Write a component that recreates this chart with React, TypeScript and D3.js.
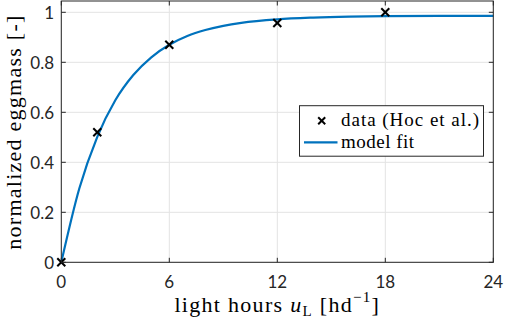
import React from "react";
import * as d3 from "d3";

const dataX = [0, 2, 6, 12, 18];
const dataY = [0, 0.52, 0.87, 0.957, 1.0];

const fitX = [0, 1, 2, 3, 4, 5, 6, 7, 8, 9, 10, 12, 14, 16, 18, 21, 24];
const fitY = [0, 0.295, 0.502, 0.648, 0.749, 0.82, 0.87, 0.905, 0.929, 0.946, 0.958, 0.972, 0.979, 0.983, 0.985, 0.986, 0.986];

const xTicks = [0, 6, 12, 18, 24];
const yTicks = [0, 0.2, 0.4, 0.6, 0.8, 1];
const yTickLabels = ["0", "0.2", "0.4", "0.6", "0.8", "1"];

const W = 505, H = 319;
const L = 61.3, R = 493.3, T = 1, B = 262.3;

export default function App() {
  const x = d3.scaleLinear().domain([0, 24]).range([L, R]);
  const y = d3.scaleLinear().domain([0, 1]).range([B, B - 250]);
  const line = d3
    .line<number>()
    .x((_, i) => x(fitX[i]))
    .y((d) => y(d))
    .curve(d3.curveMonotoneX)(fitY) as string;
  const axisColor = "#262626";
  const tickFont = "Lato, 'Open Sans', sans-serif";
  const serif = "'Liberation Serif', 'DejaVu Serif', serif";
  const tk = 4.5;
  const ms = 4;
  return (
    <svg width={W} height={H} style={{ position: "absolute", left: 0, top: 0, background: "#fff" }}>
      <rect x={0} y={0} width={W} height={H} fill="#fff" />
      {xTicks.map((t) => (
        <line key={"gx" + t} x1={x(t)} x2={x(t)} y1={T} y2={B} stroke="#e3e3e3" strokeWidth={1} />
      ))}
      {yTicks.map((t) => (
        <line key={"gy" + t} x1={L} x2={R} y1={y(t)} y2={y(t)} stroke="#e3e3e3" strokeWidth={1} />
      ))}
      {xTicks.map((t) => (
        <g key={"tx" + t}>
          <line x1={x(t)} x2={x(t)} y1={B} y2={B - tk} stroke={axisColor} />
          <line x1={x(t)} x2={x(t)} y1={T} y2={T + tk} stroke={axisColor} />
          <text x={x(t)} y={288} textAnchor="middle" fontFamily={tickFont} fontSize={17} fill="#262626">
            {t}
          </text>
        </g>
      ))}
      {yTicks.map((t, i) => (
        <g key={"ty" + t}>
          <line x1={L} x2={L + tk} y1={y(t)} y2={y(t)} stroke={axisColor} />
          <line x1={R} x2={R - tk} y1={y(t)} y2={y(t)} stroke={axisColor} />
          <text x={54} y={y(t) + 6.3} textAnchor="end" fontFamily={tickFont} fontSize={17} fill="#262626">
            {yTickLabels[i]}
          </text>
        </g>
      ))}
      <path d={line} fill="none" stroke="#0072BD" strokeWidth={2.2} />
      {dataX.map((d, i) => (
        <g key={"m" + i} stroke="#000" strokeWidth={2}>
          <line x1={x(d) - ms} x2={x(d) + ms} y1={y(dataY[i]) - ms} y2={y(dataY[i]) + ms} />
          <line x1={x(d) - ms} x2={x(d) + ms} y1={y(dataY[i]) + ms} y2={y(dataY[i]) - ms} />
        </g>
      ))}
      <rect x={L} y={T} width={R - L} height={B - T} fill="none" stroke={axisColor} strokeWidth={1} />
      <rect x={299.5} y={105.7} width={184} height={50.5} fill="#fff" stroke={axisColor} strokeWidth={1} />
      <g stroke="#000" strokeWidth={2}>
        <line x1={321.7 - 3.5} x2={321.7 + 3.5} y1={120.7 - 3.5} y2={120.7 + 3.5} />
        <line x1={321.7 - 3.5} x2={321.7 + 3.5} y1={120.7 + 3.5} y2={120.7 - 3.5} />
      </g>
      <text x={341} y={126} fontFamily={serif} fontSize={19} fill="#000" textLength={138} lengthAdjust="spacing">
        data (Hoc et al.)
      </text>
      <line x1={304} x2={337.5} y1={142.3} y2={142.3} stroke="#0072BD" strokeWidth={2.2} />
      <text x={341} y={147.5} fontFamily={serif} fontSize={19} fill="#000" textLength={73} lengthAdjust="spacing">
        model fit
      </text>
      <text x={(L + R) / 2} y={311.5} textAnchor="middle" fontFamily={serif} fontSize={22} fill="#000" letterSpacing={1.3}>
        light hours <tspan fontStyle="italic">u</tspan>
        <tspan fontSize={15} dy={4}>L</tspan>
        <tspan dy={-4}> [hd</tspan>
        <tspan fontSize={15} dy={-10}>−1</tspan>
        <tspan dy={10}>]</tspan>
      </text>
      <text
        transform={`translate(20.5, ${(T + B) / 2 + 1}) rotate(-90)`}
        textAnchor="middle"
        fontFamily={serif}
        fontSize={22}
        fill="#000"
        textLength={234}
        lengthAdjust="spacing"
      >
        normalized eggmass [-]
      </text>
    </svg>
  );
}
